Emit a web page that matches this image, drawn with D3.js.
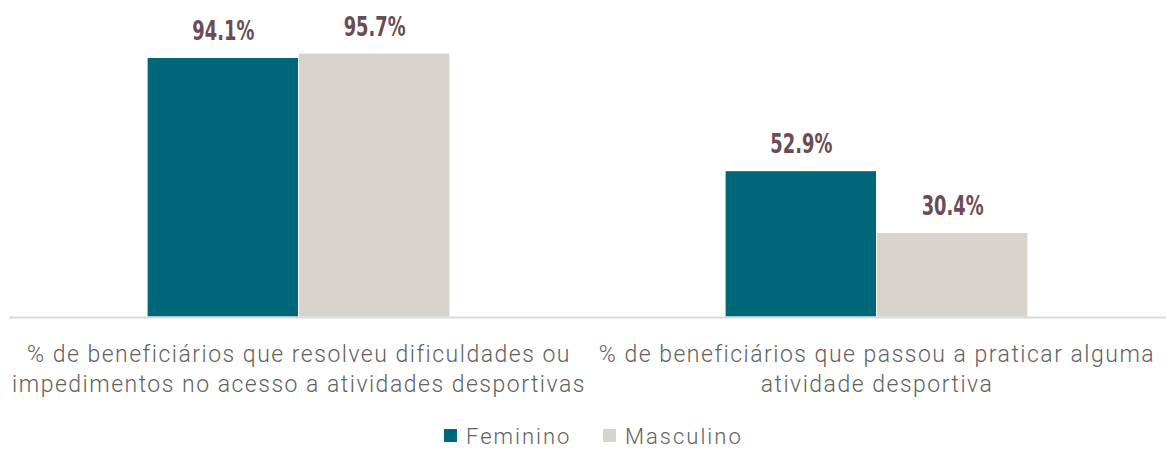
<!DOCTYPE html>
<html>
<head>
<meta charset="utf-8">
<script src="https://cdn.jsdelivr.net/npm/d3@7"></script>
<style>
  body { margin: 0; background: #fff; }
  svg { display: block; }
</style>
</head>
<body>
<svg id="chart" width="1166" height="449"></svg>
<script>
// data
const categories = [
  "% de beneficiários que resolveu dificuldades ou impedimentos no acesso a atividades desportivas",
  "% de beneficiários que passou a praticar alguma atividade desportiva"
];
const categoryLines = [
  ["% de beneficiários que resolveu dificuldades ou", "impedimentos no acesso a atividades desportivas"],
  ["% de beneficiários que passou a praticar alguma", "atividade desportiva"]
];
const seriesNames = ["Feminino", "Masculino"];
const feminino = [94.1, 52.9];
const masculino = [95.7, 30.4];

const colors = { Feminino: "#00667a", Masculino: "#d9d3ce" };

const svg = d3.select("#chart"),
      width = +svg.attr("width"),
      height = +svg.attr("height");

const baseY = 316.5;
const x0 = d3.scaleBand().domain(categories).range([10, 1166]).padding(0);
const x1 = d3.scaleBand().domain(seriesNames)
  .range([0, x0.bandwidth()]).paddingInner(0).paddingOuter(0.909);
const y = d3.scaleLinear().domain([0, 100]).range([baseY, 41.8]);

const rows = categories.map((c, i) => ({
  cat: c,
  values: [
    { key: "Feminino", value: feminino[i] },
    { key: "Masculino", value: masculino[i] }
  ]
}));

const groups = svg.selectAll(".grp")
  .data(rows)
  .join("g")
  .attr("class", "grp")
  .attr("transform", d => `translate(${x0(d.cat)},0)`);

groups.selectAll("rect")
  .data(d => d.values)
  .join("rect")
  .attr("x", d => x1(d.key))
  .attr("y", d => y(d.value))
  .attr("width", x1.bandwidth() - 1)
  .attr("height", d => baseY - y(d.value))
  .attr("fill", d => colors[d.key]);

groups.selectAll(".val")
  .data(d => d.values)
  .join("text")
  .attr("class", "val")
  .attr("x", d => x1(d.key) + x1.bandwidth() / 2)
  .attr("y", d => y(d.value) - 18)
  .attr("text-anchor", "middle")
  .attr("font-family", "'DejaVu Sans Condensed', 'DejaVu Sans'")
  .attr("font-weight", "bold")
  .attr("font-size", "26px")
  .attr("textLength", 62)
  .attr("lengthAdjust", "spacingAndGlyphs")
  .attr("fill", "#6b4c56")
  .text(d => d.value.toFixed(1) + "%");

// axis line
svg.append("line")
  .attr("x1", 9).attr("x2", width)
  .attr("y1", baseY + 1).attr("y2", baseY + 1)
  .attr("stroke", "#d9d9d9")
  .attr("stroke-width", 2);

// category labels
const labels = svg.append("g");
categories.forEach((c, i) => {
  const cx = x0(c) + x0.bandwidth() / 2;
  const t = labels.append("text")
    .attr("x", cx)
    .attr("y", 362)
    .attr("text-anchor", "middle")
    .attr("font-family", "Roboto")
    .attr("font-weight", 300)
    .attr("font-size", "23px")
    .attr("letter-spacing", "1.5px")
    .attr("fill", "#626262");
  categoryLines[i].forEach((line, j) => {
    t.append("tspan")
      .attr("x", cx)
      .attr("dy", j === 0 ? 0 : 30)
      .text(line);
  });
});

// legend
const legend = svg.append("g").attr("transform", "translate(444, 0)");
const legendX = [0, 159];
const legendItems = legend.selectAll(".legend-item")
  .data(seriesNames)
  .join("g")
  .attr("class", "legend-item")
  .attr("transform", (d, i) => `translate(${legendX[i]}, 0)`);

legendItems.append("rect")
  .attr("y", 429)
  .attr("width", 13)
  .attr("height", 13)
  .attr("fill", d => colors[d]);

legendItems.append("text")
  .attr("x", 22)
  .attr("y", 444)
  .attr("font-family", "Roboto")
  .attr("font-weight", 300)
  .attr("font-size", "22px")
  .attr("letter-spacing", "2px")
  .attr("fill", "#626262")
  .text(d => d);
</script>
</body>
</html>
